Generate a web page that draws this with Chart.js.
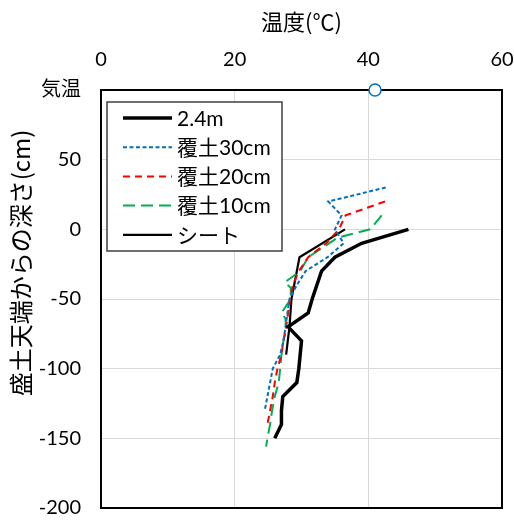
<!DOCTYPE html>
<html><head><meta charset="utf-8">
<script src="https://cdn.jsdelivr.net/npm/chart.js@4.4.1/dist/chart.umd.min.js"></script>
<style>html,body{margin:0;padding:0;background:#fff;}</style>
</head><body>
<canvas id="c" width="514" height="521"></canvas>
<script>
// ---- data (temperature ℃ vs depth cm) ----
const seriesLabels = ['2.4m', '覆土30cm', '覆土20cm', '覆土10cm', 'シート'];
const depth24 = [0, -10, -20, -30, -40, -50, -60, -70, -80, -90, -100, -110, -120, -130, -140, -150];
const temp24  = [46, 39, 35, 33, 32.3, 31.6, 31, 28, 30, 29.8, 29.6, 29.3, 27.2, 27, 27, 26];
const depth30 = [30, 20, 10, 0, -10, -20, -30, -40, -50, -60, -70, -80, -90, -100, -110, -120, -130];
const temp30  = [42.6, 34, 36, 35, 36.3, 33.9, 30.6, 29.3, 28.2, 27.9, 27.6, 27.3, 26.8, 25.7, 25.3, 24.9, 24.5];
const depth20 = [20, 10, 0, -10, -20, -30, -40, -50, -60, -70, -80, -90, -100, -110, -120, -130, -140];
const temp20  = [42.5, 36.6, 35.6, 33.7, 31, 29.6, 28.7, 28.3, 28, 27.7, 27.3, 27, 26.4, 26, 25.7, 25.3, 24.9];
const depth10 = [10, 0, -6, -20, -30, -38, -42, -50, -60, -64, -72, -80, -90, -100, -110, -120, -130, -140, -150, -156];
const temp10  = [42, 40.3, 35.4, 31, 29.8, 27.5, 28.4, 28.4, 27, 27.6, 27.7, 27.3, 27, 26.8, 26.6, 26, 25.6, 25.3, 24.9, 24.7];
const depthSheet = [0, -20, -50, -70, -90];
const tempSheet  = [36.5, 29.7, 28.5, 28.2, 27.7];
const airLabel = '気温';
const airDepth = 100;   // plotted on the "気温" row
const airTemp  = 41;
const xTickValues = [0, 20, 40, 60];
const yTickValues = [-200, -150, -100, -50, 0, 50, 100];
const xTitle = '温度(℃)';
const yTitle = '盛土天端からの深さ(cm)';

const pts = (t, d) => t.map((v, i) => ({x: v, y: d[i]}));
const FONT = "Lato, 'Noto Sans CJK JP', sans-serif";
const JFONT = "'Noto Sans CJK JP', Lato, sans-serif";

const styles = [
  {borderColor: '#000000', borderWidth: 3.5, borderDash: []},
  {borderColor: '#0070C0', borderWidth: 2, borderDash: [4, 2.5]},
  {borderColor: '#FF0000', borderWidth: 2, borderDash: [7, 5]},
  {borderColor: '#00B050', borderWidth: 2, borderDash: [12, 6]},
  {borderColor: '#000000', borderWidth: 2.2, borderDash: []}
];
const seriesData = [pts(temp24, depth24), pts(temp30, depth30), pts(temp20, depth20), pts(temp10, depth10), pts(tempSheet, depthSheet)];

const datasets = seriesData.map((d, i) => Object.assign({
  label: seriesLabels[i], data: d, showLine: true, pointRadius: 0, fill: false, tension: 0
}, styles[i]));
datasets.push({
  label: airLabel, data: [{x: airTemp, y: airDepth}], showLine: false,
  pointRadius: 6, pointBackgroundColor: '#ffffff', pointBorderColor: '#0070C0', pointBorderWidth: 1.5,
  clip: false, isAir: true
});

const borderPlugin = {
  id: 'frame',
  beforeDatasetsDraw(chart) {
    const {ctx, chartArea: a} = chart;
    ctx.save();
    ctx.strokeStyle = '#000'; ctx.lineWidth = 2;
    ctx.strokeRect(a.left, a.top, a.right - a.left, a.bottom - a.top);
    ctx.restore();
  }
};

const legendPlugin = {
  id: 'insideLegend',
  afterDraw(chart) {
    const {ctx, chartArea: a} = chart;
    const bx = a.left + 6, by = a.top + 12, bw = 175, bh = 149;
    ctx.save();
    ctx.fillStyle = '#fff';
    ctx.fillRect(bx, by, bw, bh);
    ctx.strokeStyle = '#404040'; ctx.lineWidth = 1.5;
    ctx.strokeRect(bx, by, bw, bh);
    const rowH = 29.2;
    chart.data.datasets.forEach((ds, i) => {
      if (ds.isAir) return;
      const cy = by + 16 + i * rowH;
      ctx.beginPath();
      ctx.strokeStyle = ds.borderColor; ctx.lineWidth = ds.borderWidth;
      ctx.setLineDash(ds.borderDash || []);
      ctx.moveTo(bx + 16, cy); ctx.lineTo(bx + 65, cy);
      ctx.stroke();
      ctx.setLineDash([]);
      ctx.fillStyle = '#000';
      ctx.font = "21px " + FONT;
      ctx.textBaseline = 'middle'; ctx.textAlign = 'left';
      ctx.fillText(ds.label, bx + 70, cy + 1);
    });
    ctx.restore();
  }
};

const gridColor = (ends) => (c) => (c.tick && ends.includes(c.tick.value)) ? 'rgba(0,0,0,0)' : '#d9d9d9';

new Chart(document.getElementById('c'), {
  type: 'scatter',
  data: {datasets},
  plugins: [borderPlugin, legendPlugin],
  options: {
    responsive: false, animation: false, devicePixelRatio: 1,
    layout: {padding: {left: 0, right: 12, top: 0, bottom: 13}},
    plugins: {legend: {display: false}, tooltip: {enabled: false}},
    scales: {
      x: {
        type: 'linear', position: 'top', min: xTickValues[0], max: xTickValues[xTickValues.length - 1],
        afterBuildTicks: s => { s.ticks = xTickValues.map(v => ({value: v})); },
        afterFit: s => { s.height = 90; s.paddingLeft = 0; s.paddingRight = 0; },
        ticks: {padding: 18, color: '#000', font: {family: FONT, size: 20}},
        grid: {color: gridColor([0, 60]), lineWidth: 1, drawTicks: false},
        border: {display: false},
        title: {display: true, text: xTitle, color: '#000', font: {family: JFONT, size: 22}, padding: {top: 8, bottom: 0}}
      },
      y: {
        type: 'linear', min: yTickValues[0], max: yTickValues[yTickValues.length - 1],
        afterBuildTicks: s => { s.ticks = yTickValues.map(v => ({value: v})); },
        afterFit: s => { s.width = 101; s.paddingTop = 0; s.paddingBottom = 0; },
        ticks: {padding: 20, color: '#000', font: {family: FONT, size: 20},
                callback: v => v === airDepth ? airLabel : v},
        grid: {color: gridColor([100, -200]), lineWidth: 1, drawTicks: false},
        border: {display: false},
        title: {display: true, text: '\u3000\u3000\u3000' + yTitle, color: '#000', font: {family: JFONT, size: 24}, padding: {top: 6, bottom: 0}}
      }
    }
  }
});
</script>
</body></html>
